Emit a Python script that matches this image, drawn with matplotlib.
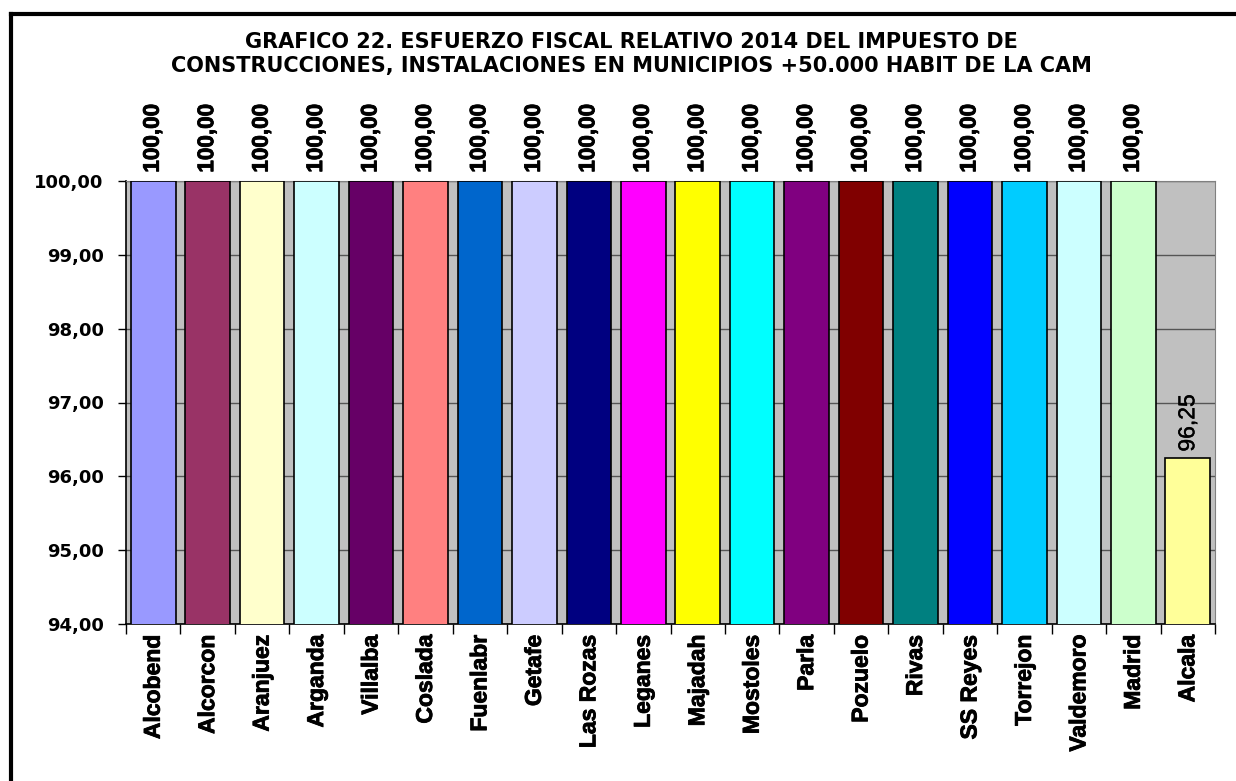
import matplotlib
matplotlib.use("Agg")
import matplotlib.pyplot as plt
from matplotlib.ticker import FixedLocator, NullFormatter
from matplotlib.lines import Line2D
from matplotlib.font_manager import FontProperties
import matplotlib.patheffects as pe

categories = ["Alcobend", "Alcorcon", "Aranjuez", "Arganda", "Villalba", "Coslada",
              "Fuenlabr", "Getafe", "Las Rozas", "Leganes", "Majadah", "Mostoles",
              "Parla", "Pozuelo", "Rivas", "SS Reyes", "Torrejon", "Valdemoro",
              "Madrid", "Alcala"]
values = [100.00] * 19 + [96.25]
colors = ["#9999FF", "#993366", "#FFFFCC", "#CCFFFF", "#660066", "#FF8080",
          "#0066CC", "#CCCCFF", "#000080", "#FF00FF", "#FFFF00", "#00FFFF",
          "#800080", "#800000", "#008080", "#0000FF", "#00CCFF", "#CCFFFF",
          "#CCFFCC", "#FFFF99"]
yticks = [94, 95, 96, 97, 98, 99, 100]
title = ("GRAFICO 22. ESFUERZO FISCAL RELATIVO 2014 DEL IMPUESTO DE\n"
         "CONSTRUCCIONES, INSTALACIONES EN MUNICIPIOS +50.000 HABIT DE LA CAM")

plt.rcParams['font.family'] = ['Liberation Sans', 'DejaVu Sans']

fp_ytick = FontProperties(family=['DejaVu Sans'], weight='bold', size=13)
fp_title = FontProperties(family=['DejaVu Sans'], weight='bold', size=15)
heavy = [pe.withStroke(linewidth=0.6, foreground="black")]
light = [pe.withStroke(linewidth=0.3, foreground="black")]

fig = plt.figure(figsize=(12.36, 7.81), dpi=100)
ax = fig.add_axes([126/1236, 1-624/781, (1215-126)/1236, (624-181)/781])
ax.set_facecolor("#C0C0C0")

x = list(range(len(categories)))
ax.bar(x, values, width=0.82, color=colors, edgecolor="black", linewidth=1.2, zorder=3)
ax.set_xlim(-0.5, len(categories) - 0.5)
ax.set_ylim(94, 100)

ax.set_yticks(yticks)
ax.set_yticklabels([f"{v:.2f}".replace(".", ",") for v in yticks], fontproperties=fp_ytick)
ax.yaxis.grid(True, color="#555555", linewidth=1.0, zorder=1)
ax.set_axisbelow(True)

ax.xaxis.set_major_locator(FixedLocator([i - 0.5 for i in range(len(categories) + 1)]))
ax.xaxis.set_major_formatter(NullFormatter())
ax.xaxis.set_minor_locator(FixedLocator(x))
labs = ax.set_xticklabels(categories, minor=True, rotation=90, fontsize=16.5, fontweight="bold")
for t in labs:
    t.set_path_effects(heavy)
ax.tick_params(axis="x", which="major", direction="out", length=7, width=1, color="black")
ax.tick_params(axis="x", which="minor", length=0, pad=8)
ax.tick_params(axis="y", direction="out", length=6, width=1, pad=10)

for s in ["top", "right"]:
    ax.spines[s].set_color("#808080")
for s in ["left", "bottom"]:
    ax.spines[s].set_color("black")
    ax.spines[s].set_linewidth(1.2)

for xi, v in zip(x, values):
    lab = f"{v:.2f}".replace(".", ",")
    full = v >= 100
    t = ax.annotate(lab, (xi, min(v, 100)), xytext=(0, 6 if full else 4.5),
                    textcoords="offset points",
                    rotation=90, ha="center", va="bottom",
                    fontsize=16.2 if full else 16.5,
                    fontweight="bold" if full else "normal",
                    annotation_clip=False)
    t.set_path_effects(heavy if full else light)

fig.text(0.511, 1 - 54/781, title, ha="center", va="center",
         fontproperties=fp_title, linespacing=1.2)

# outer frame
fig.add_artist(Line2D([11/1236, 1.0], [1-14/781, 1-14/781], color="black", linewidth=3,
                      transform=fig.transFigure))
fig.add_artist(Line2D([11/1236, 11/1236], [0.0, 1-14/781], color="black", linewidth=3,
                      transform=fig.transFigure))

fig.savefig("out.png", dpi=100)
